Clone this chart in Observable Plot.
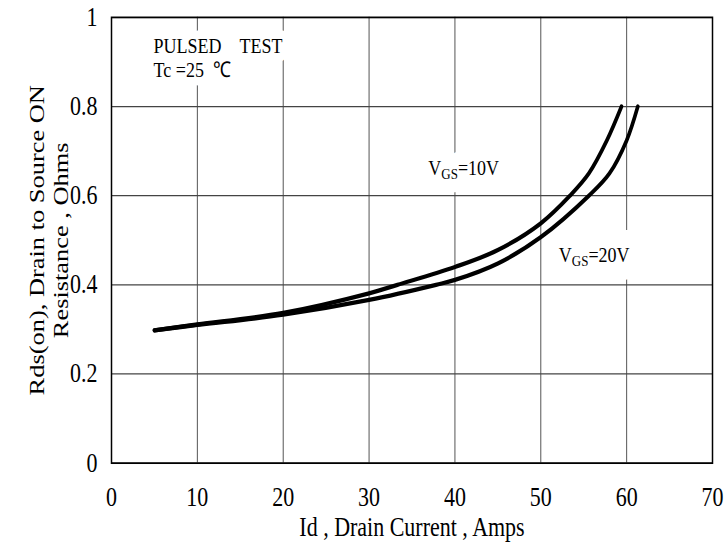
<!DOCTYPE html>
<html>
<head>
<meta charset="utf-8">
<script src="https://cdn.jsdelivr.net/npm/d3@7"></script>
<script src="https://cdn.jsdelivr.net/npm/@observablehq/plot@0.6"></script>
<style>
  html, body { margin: 0; padding: 0; background: white; }
</style>
</head>
<body>
<div id="chart"></div>
<script>
// Data
const xTicks = [0, 10, 20, 30, 40, 50, 60, 70];
const yTicks = [0, 0.2, 0.4, 0.6, 0.8, 1];
const yTickLabels = ["0", "0.2", "0.4", "0.6", "0.8", "1"];

const current10 = [5, 10, 20, 30, 33.3, 40, 45, 50, 53.4, 55.6, 57.7, 59.4];
const rds10     = [0.298, 0.311, 0.337, 0.381, 0.40, 0.440, 0.478, 0.538, 0.60, 0.65, 0.724, 0.80];

const current20 = [5, 10, 20, 30, 37.8, 40, 45, 50, 55.6, 58, 60, 61.3];
const rds20     = [0.298, 0.310, 0.333, 0.366, 0.40, 0.411, 0.448, 0.507, 0.60, 0.65, 0.724, 0.80];

const noteLines = ["PULSED\u00a0\u00a0\u00a0\u00a0TEST", "Tc =25\u00a0\u00a0\u2103"];
const noteX = [4.9, 4.9];
const noteY = [0.935, 0.881];

const seriesLabels = ["VGS=10V", "VGS=20V"];
const seriesLabelX = [36.9, 52.1];
const seriesLabelY = [0.661, 0.466];

const xLabel = "Id , Drain Current , Amps";
const yLabelLines = ["Rds(on), Drain to Source ON", "Resistance , Ohms"];

const line10 = current10.map((x, i) => ({x, y: rds10[i]}));
const line20 = current20.map((x, i) => ({x, y: rds20[i]}));

const W = 728, H = 452, SCREEN_H = 543;

const labelOpts = (i, halo) => ({
  x: () => seriesLabelX[i], y: () => seriesLabelY[i], text: d => d, textAnchor: "start", fontSize: 18,
  ...(halo ? {fill: "white", stroke: "white", strokeWidth: halo} : {fill: "black"})
});

const chart = Plot.plot({
  width: W,
  height: H,
  marginLeft: 111,
  marginRight: 16,
  marginTop: 14,
  marginBottom: 67,
  style: {fontFamily: "'Liberation Serif', 'Times New Roman', serif", fontSize: "22px", background: "white", color: "black"},
  x: {domain: [0, 70], ticks: xTicks, tickSize: 0, tickPadding: 20, label: null},
  y: {domain: [0, 1], ticks: yTicks, tickFormat: d => yTickLabels[yTicks.indexOf(d)], tickSize: 0, tickPadding: 14, label: null},
  marks: [
    Plot.ruleX(xTicks.slice(1, -1), {stroke: "#555", strokeWidth: 1}),
    Plot.ruleY(yTicks.slice(1, -1), {stroke: "#444", strokeWidth: 1}),
    Plot.text(noteLines, {x: (d, i) => noteX[i], y: (d, i) => noteY[i], text: d => d, textAnchor: "start",
      fontSize: 18, fill: "black", stroke: "white", strokeWidth: 14, paintOrder: "stroke"}),
    Plot.text([seriesLabels[0]], labelOpts(0, 22)),
    Plot.text([seriesLabels[1]], labelOpts(1, 30)),
    Plot.text([seriesLabels[0]], labelOpts(0, 0)),
    Plot.text([seriesLabels[1]], labelOpts(1, 0)),
    Plot.line(line10, {x: "x", y: "y", stroke: "black", strokeWidth: 3.6, curve: "catmull-rom", strokeLinecap: "round"}),
    Plot.line(line20, {x: "x", y: "y", stroke: "black", strokeWidth: 3.6, curve: "catmull-rom", strokeLinecap: "round"}),
    Plot.frame({stroke: "black", strokeWidth: 1.5}),
    Plot.text([xLabel], {frameAnchor: "bottom", textAnchor: "middle", lineAnchor: "bottom", text: d => d, dy: 61, fontSize: 22, fill: "black"}),
    Plot.text([yLabelLines[0]], {frameAnchor: "left", textAnchor: "middle", text: d => d, rotate: -90, dx: -75, fontSize: 22, fill: "black"}),
    Plot.text([yLabelLines[1]], {frameAnchor: "left", textAnchor: "middle", text: d => d, rotate: -90, dx: -51, fontSize: 22, fill: "black"})
  ]
});

// Subscript "GS" in the series labels
d3.select(chart).selectAll("text").each(function() {
  const t = this.textContent;
  const m = /^VGS(=.*)$/.exec(t);
  if (m && this.children.length === 0) {
    this.textContent = "";
    const s = d3.select(this);
    s.append("tspan").text("V");
    s.append("tspan").attr("font-size", "13px").attr("dy", "3").text("GS");
    s.append("tspan").attr("dy", "-3").text(m[1]);
  }
});

// Reproduce the vertically stretched look of the original
chart.setAttribute("viewBox", `0 0 ${W} ${H}`);
chart.setAttribute("preserveAspectRatio", "none");
chart.setAttribute("height", SCREEN_H);
chart.style.width = W + "px";
chart.style.height = SCREEN_H + "px";
chart.style.maxWidth = "none";
chart.style.overflow = "visible";

document.getElementById("chart").appendChild(chart);
</script>
</body>
</html>
